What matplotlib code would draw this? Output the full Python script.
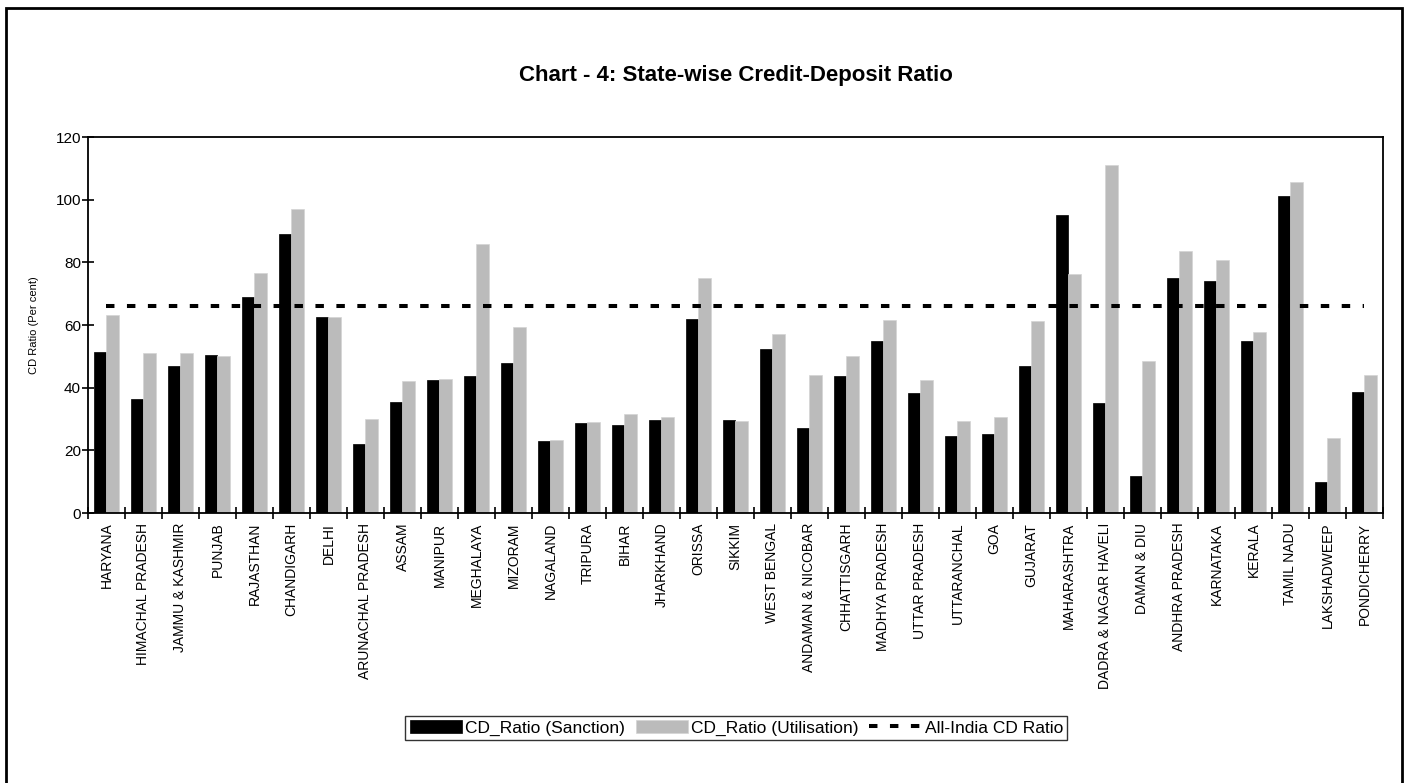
import numpy as np
import matplotlib
matplotlib.use('Agg')
import matplotlib.pyplot as plt
from matplotlib.patches import Rectangle

plt.rcParams['font.family'] = ['Liberation Sans', 'DejaVu Sans']

states = ['HARYANA', 'HIMACHAL PRADESH', 'JAMMU & KASHMIR', 'PUNJAB', 'RAJASTHAN',
          'CHANDIGARH', 'DELHI', 'ARUNACHAL PRADESH', 'ASSAM', 'MANIPUR',
          'MEGHALAYA', 'MIZORAM', 'NAGALAND', 'TRIPURA', 'BIHAR', 'JHARKHAND',
          'ORISSA', 'SIKKIM', 'WEST BENGAL', 'ANDAMAN & NICOBAR', 'CHHATTISGARH',
          'MADHYA PRADESH', 'UTTAR PRADESH', 'UTTARANCHAL', 'GOA', 'GUJARAT',
          'MAHARASHTRA', 'DADRA & NAGAR HAVELI', 'DAMAN & DIU', 'ANDHRA PRADESH',
          'KARNATAKA', 'KERALA', 'TAMIL NADU', 'LAKSHADWEEP', 'PONDICHERRY']

# CD ratio by sanction
sanction = [51.5, 36.5, 47.0, 50.3, 69.0, 89.0, 62.5, 22.0, 35.5, 42.5,
            43.8, 48.0, 23.0, 28.8, 28.0, 29.8, 62.0, 29.7, 52.5, 27.0,
            43.8, 55.0, 38.2, 24.5, 25.3, 46.8, 95.2, 35.0, 11.7, 75.0,
            74.0, 55.0, 101.3, 10.0, 38.5]

# CD ratio by utilisation
utilisation = [63.3, 51.0, 51.0, 50.0, 76.7, 97.0, 62.5, 30.0, 42.0, 42.8,
               86.0, 59.3, 23.3, 29.2, 31.5, 30.8, 75.0, 29.5, 57.0, 44.0,
               50.0, 61.5, 42.5, 29.3, 30.5, 61.2, 76.2, 111.0, 48.6, 83.5,
               80.8, 57.7, 105.5, 24.0, 44.0]

all_india = 66.0

x = np.arange(len(states))
w = 0.33

fig = plt.figure(figsize=(14.08, 7.83), dpi=100)
ax = fig.add_axes([0.0625, 0.3448, 0.9197, 0.4802])

b1 = ax.bar(x - w / 2, sanction, w, color='black', edgecolor='black', linewidth=0.5,
            label='CD_Ratio (Sanction)')
b2 = ax.bar(x + w / 2, utilisation, w, color='#BBBBBB', edgecolor='#D4D4D4', linewidth=0.5,
            label='CD_Ratio (Utilisation)')
ln, = ax.plot([x[0], x[-1]], [all_india, all_india], color='black', linewidth=2.9,
              dashes=(2.1, 3.1), label='All-India CD Ratio')

ax.set_xlim(-0.5, len(states) - 0.5)
ax.set_ylim(0, 120)
ax.set_yticks(np.arange(0, 121, 20))
ax.set_xticks(x)
ax.set_xticklabels(states, rotation=90, fontsize=10)
ax.set_xticks(np.arange(-0.5, len(states), 1), minor=True)
ax.tick_params(axis='x', which='major', length=0, pad=7)
ax.tick_params(axis='x', which='minor', direction='inout', length=8, width=1.2)
ax.tick_params(axis='y', direction='inout', length=8, width=1.2, labelsize=11, pad=1)
for s in ax.spines.values():
    s.set_linewidth(1.3)

ax.set_ylabel('CD Ratio (Per cent)', fontsize=8, labelpad=12)
ax.set_title('Chart - 4: State-wise Credit-Deposit Ratio', fontsize=16,
             fontweight='bold', pad=40)

leg = fig.legend([b1, b2, ln], [b1.get_label(), b2.get_label(), ln.get_label()],
                 loc='center', bbox_to_anchor=(0.523, 0.0702), ncol=3, fontsize=12.5,
                 frameon=True, fancybox=False, edgecolor='black', handlelength=3.0,
                 handletextpad=0.2, columnspacing=0.6, borderpad=0.25,
                 bbox_transform=fig.transFigure)
leg.get_frame().set_linewidth(1.0)

# outer chart border
fig.add_artist(Rectangle((0.004, -0.01), 0.992, 1.0, transform=fig.transFigure,
                         fill=False, edgecolor='black', linewidth=2))

fig.savefig('out.png', dpi=100)
